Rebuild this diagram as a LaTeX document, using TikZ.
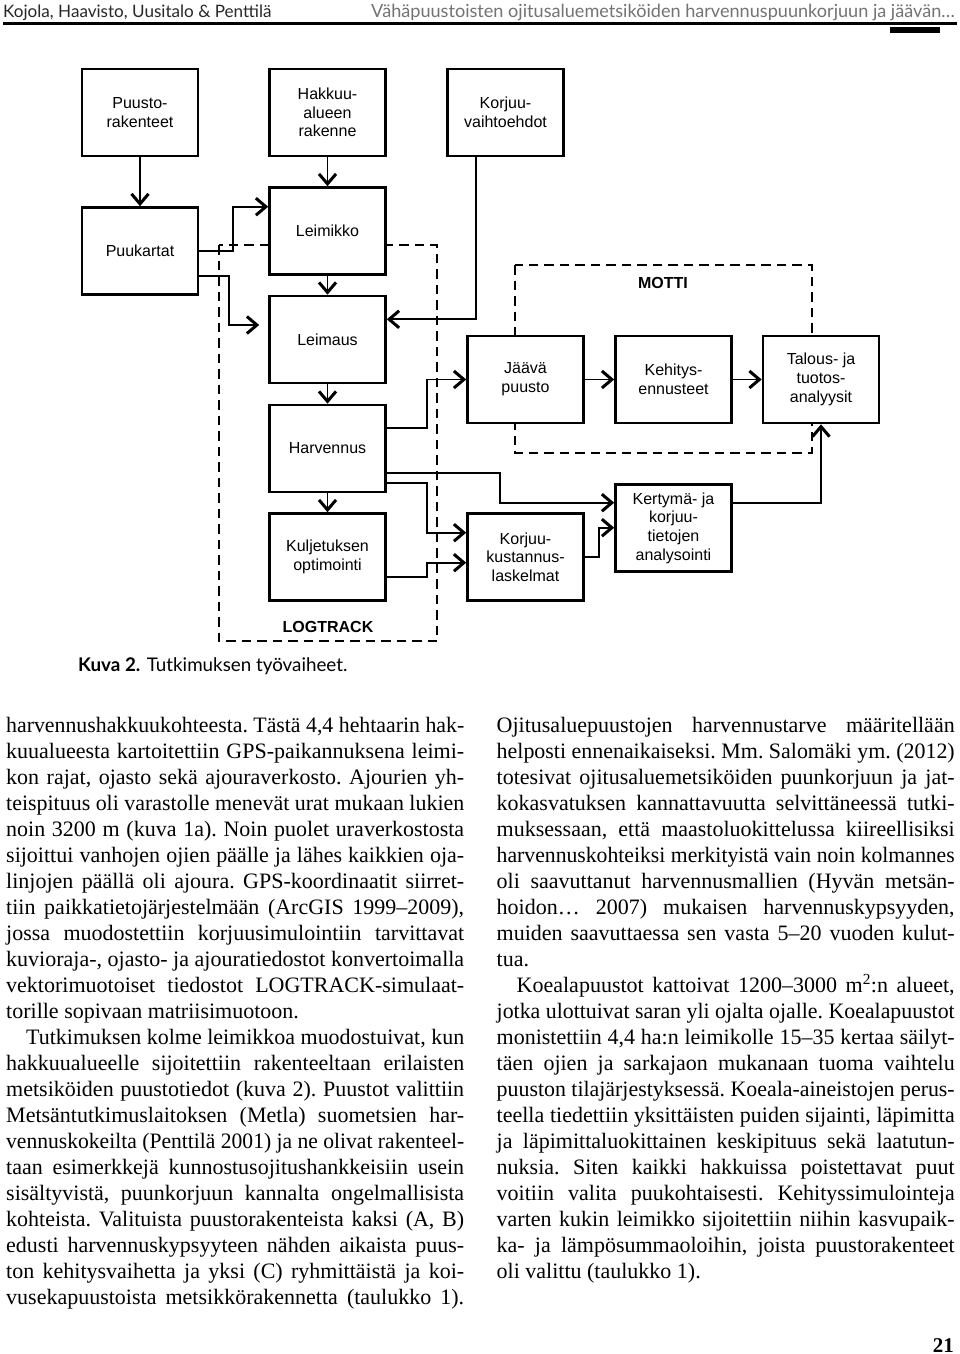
\documentclass[tikz,border=0pt]{standalone}
\usepackage{fontspec}
\setmainfont{Liberation Serif}
\newfontfamily\arialf{Liberation Sans}
\newfontfamily\gillf{Lato}
\usetikzlibrary{arrows.meta}
\definecolor{hdrgray}{RGB}{115,115,115}
\definecolor{hdrdark}{RGB}{40,40,40}
\newsavebox\lnbox
\newcommand{\myJ}[1]{\sbox\lnbox{#1}\ifdim\wd\lnbox>\linewidth\resizebox{\linewidth}{\height}{\usebox\lnbox}\else\makebox[\linewidth][s]{#1}\fi\par}
\newcommand{\myL}[1]{#1\par}
\begin{document}
\begin{tikzpicture}[x=1pt,y=-1pt,
  box/.style={draw, line width=2.6pt, fill=white, minimum width=116pt, minimum height=87pt, inner sep=0pt, align=center, font=\arialf\fontsize{16}{18.7}\selectfont},
  conn/.style={line width=1.8pt},
  arr/.style={conn, -{Straight Barb[length=10pt,width=17pt,line width=3pt]}},
  dashbox/.style={line width=2.3pt, dash pattern=on 9.5pt off 6pt},
  lbl/.style={font=\arialf\bfseries\fontsize{16}{18}\selectfont, inner sep=0pt},
  txt/.style={anchor=base west, inner sep=0pt},
]
\useasboundingbox (0,0) rectangle (960,1354);
\fill[white] (0,0) rectangle (960,1354);

% header
\node[txt, font=\gillf\fontsize{17.1}{20}\selectfont, text=hdrdark] (hl) at (3,18) {Kojola, Haavisto, Uusitalo \& Penttilä};
\node[anchor=base east, inner sep=0pt, font=\gillf\fontsize{18.1}{20}\selectfont, text=hdrgray] (hr) at (955,18) {Vähäpuustoisten ojitusaluemetsiköiden harvennuspuunkorjuun ja jäävän…};
\draw[line width=2.2pt] (3,23.5) -- (957,23.5);
\fill (890,27) rectangle (940,33);

% dashed groups
\draw[dashbox] (219,245) rectangle (437,641);
\draw[dashbox] (515,265) rectangle (811.7,452.7);
\node[lbl] (logtrack) at (328,626.7) {LOGTRACK};
\node[lbl] (motti) at (663,283.3) {MOTTI};

% boxes
\node[box] (puusto) at (140,112.5) {Puusto-\\rakenteet};
\node[box] (hakkuu) at (327.5,112.5) {Hakkuu-\\alueen\\rakenne};
\node[box] (korjv) at (505.5,112.5) {Korjuu-\\vaihtoehdot};
\node[box] (puukartat) at (140,251) {Puukartat};
\node[box] (leimikko) at (327.5,231) {Leimikko};
\node[box] (leimaus) at (327.5,339.5) {Leimaus};
\node[box] (harvennus) at (327.5,448.5) {Harvennus};
\node[box] (kulj) at (327.5,557) {Kuljetuksen\\optimointi};
\node[box] (jaava) at (525.5,379.5) {Jäävä\\puusto};
\node[box] (kehitys) at (673.5,379.5) {Kehitys-\\ennusteet};
\node[box] (talous) at (821,379.5) {Talous- ja\\tuotos-\\analyysit};
\node[box] (korjk) at (525.5,557) {Korjuu-\\kustannus-\\laskelmat};
\node[box] (kertyma) at (673.5,528) {Kertymä- ja\\korjuu-\\tietojen\\analysointi};

% connectors
\draw[arr] (puusto.south) -- (puukartat.north);
\draw[arr] (hakkuu.south) -- (leimikko.north);
\draw[arr] (leimikko.south) -- (leimaus.north);
\draw[arr] (leimaus.south) -- (harvennus.north);
\draw[arr] (harvennus.south) -- (kulj.north);
\draw[arr] (puukartat.east) -- (233,251) -- (233,206.7) -- (leimikko.west |- 0,206.7);
\draw[arr, shorten >=9pt] (puukartat.east |- 0,275.7) -- (229,275.7) -- (229,325) -- (leimaus.west |- 0,325);
\draw[arr] (korjv.south -| 475.7,0) -- (475.7,319.3) -- (leimaus.east |- 0,319.3);
\draw[arr] (harvennus.east |- 0,428) -- (426.7,428) -- (426.7,379.5) -- (jaava.west);
\draw[arr] (harvennus.east |- 0,473.3) -- (500,473.3) -- (500,502.7) -- (kertyma.west |- 0,502.7);
\draw[arr] (harvennus.east |- 0,483.3) -- (426.7,483.3) -- (426.7,532.7) -- (korjk.west |- 0,532.7);
\draw[arr] (kulj.east |- 0,576.7) -- (426.7,576.7) -- (426.7,562.7) -- (korjk.west |- 0,562.7);
\draw[arr] (korjk.east |- 0,557.3) -- (599.3,557.3) -- (599.3,527.7) -- (kertyma.west |- 0,527.7);
\draw[arr] (kertyma.east |- 0,502.7) -- (821,502.7) -- (talous.south);
\draw[arr] (jaava.east) -- (kehitys.west);
\draw[arr] (kehitys.east) -- (talous.west);

% caption
\node[txt, font=\gillf\fontsize{18.8}{21}\selectfont] (cap) at (78,671) {\textbf{Kuva 2.} Tutkimuksen työvaiheet.};

% left column
\node[txt] (colL) at (6,732.3) {\parbox[t]{458pt}{\fontsize{22}{26}\selectfont\frenchspacing
\myJ{harvennushakkuukohteesta. Tästä 4,4 hehtaarin hak-}
\myJ{kuualueesta kartoitettiin GPS-paikannuksena leimi-}
\myJ{kon rajat, ojasto sekä ajouraverkosto. Ajourien yh-}
\myJ{teispituus oli varastolle menevät urat mukaan lukien}
\myJ{noin 3200 m (kuva 1a). Noin puolet uraverkostosta}
\myJ{sijoittui vanhojen ojien päälle ja lähes kaikkien oja-}
\myJ{linjojen päällä oli ajoura. GPS-koordinaatit siirret-}
\myJ{tiin paikkatietojärjestelmään (ArcGIS 1999–2009),}
\myJ{jossa muodostettiin korjuusimulointiin tarvittavat}
\myJ{kuvioraja-, ojasto- ja ajouratiedostot konvertoimalla}
\myJ{vektorimuotoiset tiedostot LOGTRACK-simulaat-}
\myL{torille sopivaan matriisimuotoon.}
\myJ{\hspace*{20pt}Tutkimuksen kolme leimikkoa muodostuivat, kun}
\myJ{hakkuualueelle sijoitettiin rakenteeltaan erilaisten}
\myJ{metsiköiden puustotiedot (kuva 2). Puustot valittiin}
\myJ{Metsäntutkimuslaitoksen (Metla) suometsien har-}
\myJ{vennuskokeilta (Penttilä 2001) ja ne olivat rakenteel-}
\myJ{taan esimerkkejä kunnostusojitushankkeisiin usein}
\myJ{sisältyvistä, puunkorjuun kannalta ongelmallisista}
\myJ{kohteista. Valituista puustorakenteista kaksi (A, B)}
\myJ{edusti harvennuskypsyyteen nähden aikaista puus-}
\myJ{ton kehitysvaihetta ja yksi (C) ryhmittäistä ja koi-}
\myJ{vusekapuustoista metsikkörakennetta (taulukko 1).}
}};

% right column
\node[txt] (colR) at (496.5,732.3) {\parbox[t]{458pt}{\fontsize{22}{26}\selectfont\frenchspacing
\myJ{Ojitusaluepuustojen harvennustarve määritellään}
\myJ{helposti ennenaikaiseksi. Mm. Salomäki ym. (2012)}
\myJ{totesivat ojitusaluemetsiköiden puunkorjuun ja jat-}
\myJ{kokasvatuksen kannattavuutta selvittäneessä tutki-}
\myJ{muksessaan, että maastoluokittelussa kiireellisiksi}
\myJ{harvennuskohteiksi merkityistä vain noin kolmannes}
\myJ{oli saavuttanut harvennusmallien (Hyvän metsän-}
\myJ{hoidon… 2007) mukaisen harvennuskypsyyden,}
\myJ{muiden saavuttaessa sen vasta 5–20 vuoden kulut-}
\myL{tua.}
\myJ{\hspace*{20pt}Koealapuustot kattoivat 1200–3000 m\textsuperscript{2}:n alueet,}
\myJ{jotka ulottuivat saran yli ojalta ojalle. Koealapuustot}
\myJ{monistettiin 4,4 ha:n leimikolle 15–35 kertaa säilyt-}
\myJ{täen ojien ja sarkajaon mukanaan tuoma vaihtelu}
\myJ{puuston tilajärjestyksessä. Koeala-aineistojen perus-}
\myJ{teella tiedettiin yksittäisten puiden sijainti, läpimitta}
\myJ{ja läpimittaluokittainen keskipituus sekä laatutun-}
\myJ{nuksia. Siten kaikki hakkuissa poistettavat puut}
\myJ{voitiin valita puukohtaisesti. Kehityssimulointeja}
\myJ{varten kukin leimikko sijoitettiin niihin kasvupaik-}
\myJ{ka- ja lämpösummaoloihin, joista puustorakenteet}
\myL{oli valittu (taulukko 1).}
}};

% page number
\node[anchor=base east, inner sep=0pt, font=\bfseries\fontsize{21}{24}\selectfont] (pg) at (954,1352) {21};
\end{tikzpicture}
\end{document}
